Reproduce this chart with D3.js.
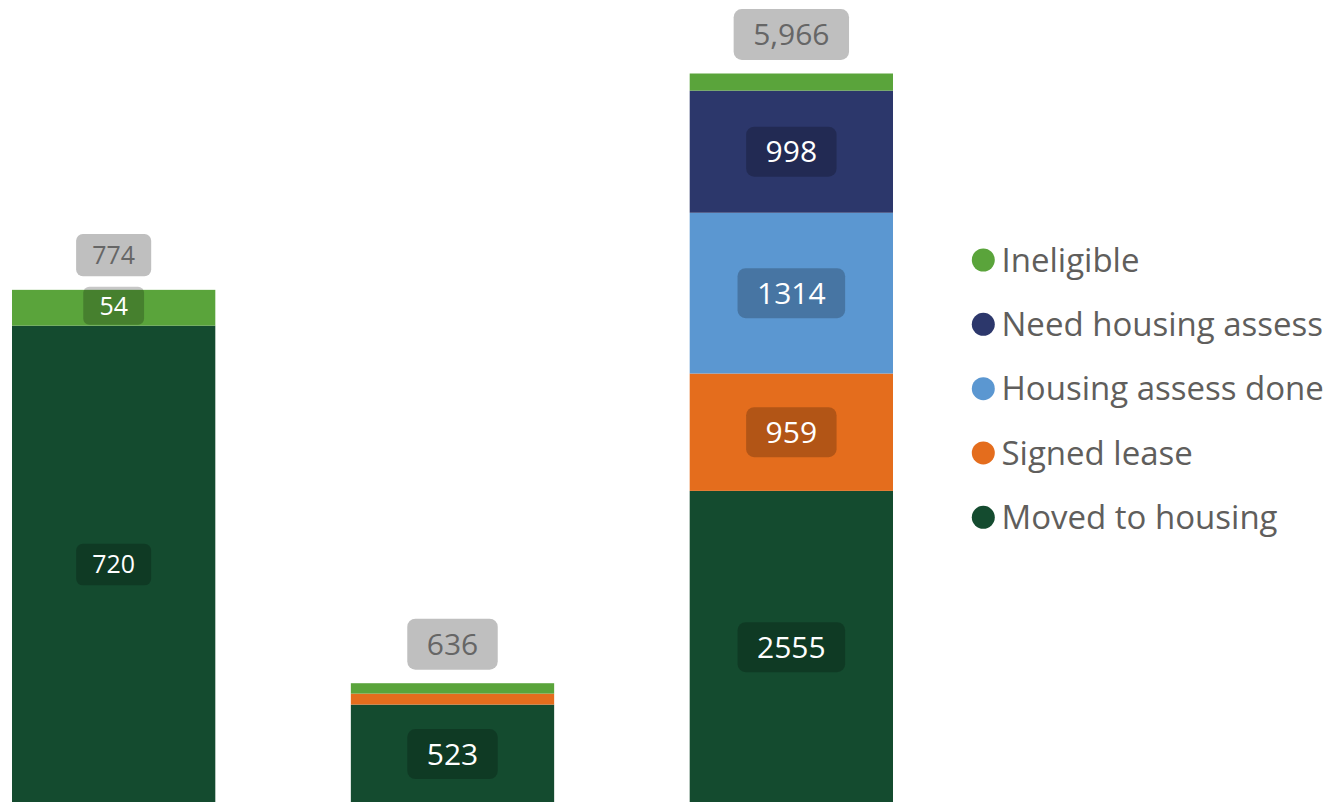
<!DOCTYPE html>
<html>
<head>
<meta charset="utf-8">
<script src="https://cdn.jsdelivr.net/npm/d3@7"></script>
<style>
  body { margin: 0; background: #fff; }
  svg { display: block; font-family: "Open Sans", "Noto Sans", sans-serif; }
</style>
</head>
<body>
<div id="chart"></div>
<script>
// categories (no axis labels shown in the picture)
const panels = ["Panel 1", "Panel 2", "Panel 3"];

// stacked bottom -> top
const series = ["Moved to housing", "Signed lease", "Housing assess done", "Need housing assess", "Ineligible"];
const moved = [720, 523, 2555];
const signedLease = [0, 58, 959];
const assessDone = [0, 0, 1314];
const needAssess = [0, 0, 998];
const ineligible = [54, 55, 140];

// every bar sits in its own small chart with its own value axis
const axisMax = [1100, 3860, 5966];
// label size factor per small chart
const labelScale = [0.83, 1, 1];

const colors = ["#144b2f", "#e46d1d", "#5b97d1", "#2c376b", "#5aa43b"];

const width = 1330, height = 802;
const baseline = 803.5, plotTop = 73.5;

const table = panels.map((p, i) => ({
  panel: p,
  "Moved to housing": moved[i],
  "Signed lease": signedLease[i],
  "Housing assess done": assessDone[i],
  "Need housing assess": needAssess[i],
  "Ineligible": ineligible[i]
}));

const stacked = d3.stack().keys(series)(table);

const x = d3.scaleBand().domain(panels).range([12, 893]).paddingInner(0.4).paddingOuter(0);
const yScales = axisMax.map(m => d3.scaleLinear().domain([0, m]).range([baseline, plotTop]));
const color = d3.scaleOrdinal().domain(series).range(colors);

const svg = d3.select('#chart').append('svg')
  .attr('width', width)
  .attr('height', height)
  .attr('viewBox', `0 0 ${width} ${height}`);

const barsG = svg.append('g');

stacked.forEach(layer => {
  layer.forEach((d, i) => {
    const y = yScales[i];
    const h = y(d[0]) - y(d[1]);
    if (h <= 0) return;
    barsG.append('rect')
      .attr('x', x(d.data.panel))
      .attr('y', y(d[1]))
      .attr('width', x.bandwidth())
      .attr('height', h)
      .attr('fill', color(layer.key));
  });
});

// rounded label box with text, centred on (cx, cy)
function labelBox(g, cx, cy, text, fs, boxH, padX, boxFill, boxOpacity, textFill) {
  const lg = g.append('g');
  const t = lg.append('text')
    .attr('x', cx)
    .attr('y', cy + fs * 0.357)
    .attr('text-anchor', 'middle')
    .attr('font-size', fs)
    .attr('fill', textFill)
    .text(text);
  const w = t.node().getComputedTextLength() + padX * 2;
  lg.insert('rect', 'text')
    .attr('x', cx - w / 2)
    .attr('y', cy - boxH / 2)
    .attr('width', w)
    .attr('height', boxH)
    .attr('rx', 8 * boxH / 50)
    .attr('fill', boxFill)
    .attr('fill-opacity', boxOpacity);
}

const labelsG = svg.append('g');

// segment labels
stacked.forEach(layer => {
  layer.forEach((d, i) => {
    const y = yScales[i];
    const h = y(d[0]) - y(d[1]);
    const v = d[1] - d[0];
    if (v <= 0 || h < 30) return;
    const k = labelScale[i];
    const cx = x(d.data.panel) + x.bandwidth() / 2;
    const cy = (y(d[0]) + y(d[1])) / 2 - (h < 45 ? 2 : 0);
    labelBox(labelsG, cx, cy, String(v), 30 * k, (h < 45 ? 38 : 50 * k), 19.5 * k, '#000', 0.22, '#fff');
  });
});

// total labels
table.forEach((row, i) => {
  const total = d3.sum(series, s => row[s]);
  const k = labelScale[i];
  const y = yScales[i];
  const boxH = 51 * k;
  const cx = x(row.panel) + x.bandwidth() / 2;
  const cy = y(total) - 13.5 - boxH / 2;
  labelBox(labelsG, cx, cy, d3.format(',')(total), 30 * k, boxH, 19.5 * k, '#bfbfbf', 1, '#666666');
});

// legend (top to bottom = reverse of stacking)
const legendItems = series.slice().reverse();
const legendY = d3.scalePoint().domain(legendItems).range([260, 517.3]);
const legend = svg.append('g');
const legendFs = 33;

legendItems.forEach(s => {
  const cy = legendY(s);
  legend.append('circle')
    .attr('cx', 983.3)
    .attr('cy', cy)
    .attr('r', 11.5)
    .attr('fill', color(s));
  legend.append('text')
    .attr('x', 1001.5)
    .attr('y', cy + legendFs * 0.35)
    .attr('font-size', legendFs)
    .attr('fill', '#605e5c')
    .text(s);
});
</script>
</body>
</html>
